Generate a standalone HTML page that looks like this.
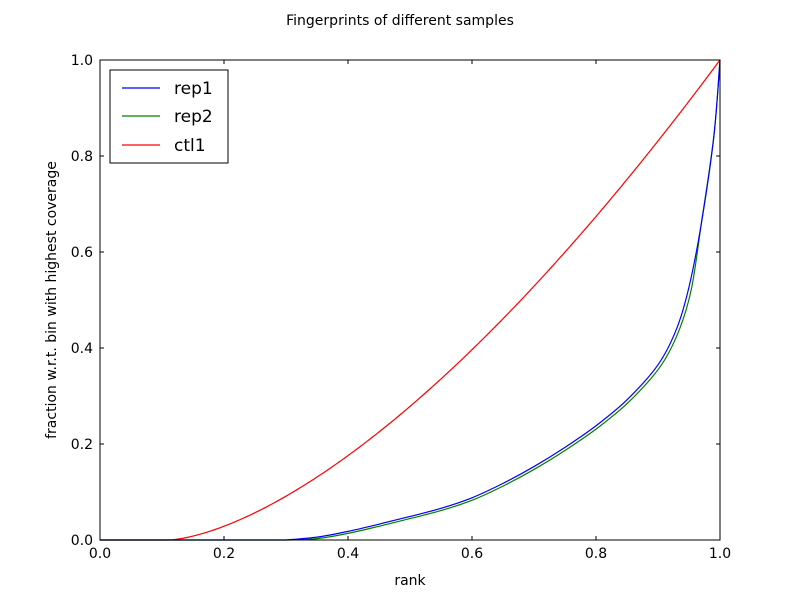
<!DOCTYPE html>
<html><head><meta charset="utf-8"><style>body{margin:0;background:#fff}svg text{font-family:"DejaVu Sans","Liberation Sans",sans-serif;}</style></head>
<body>
<svg width="800" height="600" xmlns="http://www.w3.org/2000/svg">
<rect width="800" height="600" fill="#fff"/>
<text x="400" y="25" font-size="14" text-anchor="middle">Fingerprints of different samples</text>
<g fill="none" stroke-width="1.2">
<path id="r" stroke="#ff0000"/>
<path id="g" stroke="#008000"/>
<path id="b" stroke="#0000ff"/>
</g>
<rect x="100" y="60" width="620" height="480" fill="none" stroke="#000" stroke-width="1"/>
<g stroke="#000" stroke-width="1">
<path d="M100,540v-4M224,540v-4M348,540v-4M472,540v-4M596,540v-4M720,540v-4M100,60v4M224,60v4M348,60v4M472,60v4M596,60v4M720,60v4"/>
<path d="M100,540h4M100,444h4M100,348h4M100,252h4M100,156h4M100,60h4M720,540h-4M720,444h-4M720,348h-4M720,252h-4M720,156h-4M720,60h-4"/>
</g>
<g font-size="14" text-anchor="middle">
<text x="100" y="558">0.0</text><text x="224" y="558">0.2</text><text x="348" y="558">0.4</text><text x="472" y="558">0.6</text><text x="596" y="558">0.8</text><text x="720" y="558">1.0</text>
</g>
<g font-size="14" text-anchor="end">
<text x="93" y="545">0.0</text><text x="93" y="449">0.2</text><text x="93" y="353">0.4</text><text x="93" y="257">0.6</text><text x="93" y="161">0.8</text><text x="93" y="65">1.0</text>
</g>
<text x="410" y="585" font-size="14" text-anchor="middle">rank</text>
<text transform="translate(56,300) rotate(-90)" font-size="14" text-anchor="middle">fraction w.r.t. bin with highest coverage</text>
<rect x="110" y="70" width="118" height="93" fill="#fff" stroke="#000"/>
<line x1="122" y1="88" x2="160" y2="88" stroke="#0000ff" stroke-width="1.2"/>
<line x1="122" y1="116" x2="160" y2="116" stroke="#008000" stroke-width="1.2"/>
<line x1="122" y1="145" x2="160" y2="145" stroke="#ff0000" stroke-width="1.2"/>
<g font-size="17"><text x="174" y="94">rep1</text><text x="174" y="122">rep2</text><text x="174" y="151">ctl1</text></g>
</svg>
<script>
function cr(p){var d="M100,540L"+p[0][0]+","+p[0][1];
for(var i=0;i<p.length-1;i++){var p0=p[i-1]||p[i],p1=p[i],p2=p[i+1],p3=p[i+2]||p[i+1];
var c1=[p1[0]+(p2[0]-p0[0])/6,p1[1]+(p2[1]-p0[1])/6],c2=[p2[0]-(p3[0]-p1[0])/6,p2[1]-(p3[1]-p1[1])/6];
d+="C"+c1+" "+c2+" "+p2;}return d;}
function m(a,o){o=o||0;return a.map(function(q){return [100+620*q[0],540-480*q[1]+(q[1]>0&&q[0]<0.97?o:0)];});}
var R="M100,540L168.2,540";
for(var x=0.115;x<=1.0001;x+=0.005){var t=(x-0.11)/0.89;R+="L"+(100+620*x).toFixed(2)+","+(540-480*Math.pow(t,1.55)).toFixed(2);}
document.getElementById('r').setAttribute('d',R);
var B=[[0.3,0],[0.35,0.006],[0.4,0.018],[0.45,0.033],[0.5,0.049],[0.55,0.066],[0.6,0.088],[0.65,0.118],[0.7,0.153],[0.75,0.193],[0.8,0.238],[0.85,0.292],[0.9,0.365],[0.93,0.44],[0.95,0.527],[0.97,0.66],[0.99,0.84],[1,1]];
document.getElementById('b').setAttribute('d',cr(m(B)));
var G=B.map(function(q){var x=q[0];return [x+(x>0.35&&x<0.96?0.004:0),q[1]];});
document.getElementById('g').setAttribute('d',cr(m(G,1.5)));
</script>
</body></html>
